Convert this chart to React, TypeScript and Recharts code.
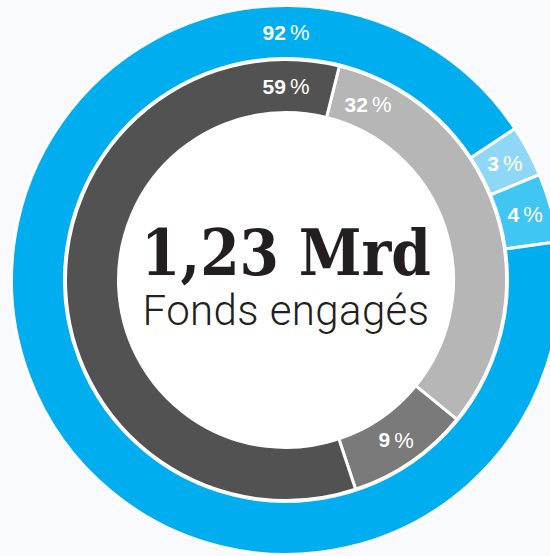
import { PieChart, Pie, Cell } from "recharts";

// outer ring
const outerLabels = ["3 %", "4 %", "92 %"];
const outerValues = [3, 4, 92];
const outerColors = ["#8fd7f6", "#40c6f3", "#00aeef"];

// inner ring
const innerLabels = ["32 %", "9 %", "59 %"];
const innerValues = [32, 9, 59];
const innerColors = ["#b6b6b7", "#7a7a7a", "#525252"];

const TOTAL = "1,23 Mrd";
const SUBTITLE = "Fonds engagés";

const W = 550;
const H = 556;
const CX = 286;
const CY = 280;
const RAD = Math.PI / 180;

const outerData = outerValues.map((value, i) => ({ name: outerLabels[i], value }));
const innerData = innerValues.map((value, i) => ({ name: innerLabels[i], value }));

// big slices get their label pulled toward the top of the ring, small ones sit at the middle
function labelAngle(p: any) {
  const s = p.startAngle ?? p.midAngle;
  const e = p.endAngle ?? p.midAngle;
  const lo = Math.min(s, e);
  const hi = Math.max(s, e);
  if (p.percent < 0.2) return p.midAngle;
  const pad = 11;
  for (const k of [-2, -1, 0, 1]) {
    const a = 90 + 360 * k;
    if (a >= lo + pad && a <= hi - pad) return a;
  }
  const top = 90;
  return Math.abs(hi - top) < Math.abs(lo - top) ? hi - pad : lo + pad;
}

function renderLabel(p: any) {
  const a = labelAngle(p);
  const r = (p.innerRadius + p.outerRadius) / 2;
  const x = p.cx + r * Math.cos(a * RAD);
  const y = p.cy - r * Math.sin(a * RAD);
  const [num] = String(p.name).split(" ");
  return (
    <text
      x={x}
      y={y}
      fill="#fff"
      textAnchor="middle"
      dominantBaseline="central"
      fontFamily="'Liberation Sans', Arial, sans-serif"
      fontSize={21}
      fontWeight={700}
    >
      {num}
      <tspan dx={4} fontWeight={400} fontSize={22}>
        %
      </tspan>
    </text>
  );
}

export default function App() {
  return (
    <div
      style={{
        width: W,
        height: H,
        position: "relative",
        background: `radial-gradient(circle at ${CX}px ${CY}px, #ffffff 170px, #f9fafd 171px)`,
      }}
    >
      <style>{"body{margin:0;background:#f9fafd}"}</style>
      <PieChart width={W} height={H} margin={{ top: 0, right: 0, bottom: 0, left: 0 }}>
        <Pie
          data={outerData}
          dataKey="value"
          cx={CX}
          cy={CY}
          innerRadius={221.5}
          outerRadius={274.5}
          startAngle={33.5}
          endAngle={33.5 - 360}
          stroke="#ffffff"
          strokeWidth={3}
          label={renderLabel}
          labelLine={false}
          isAnimationActive={false}
        >
          {outerData.map((d, i) => (
            <Cell key={d.name} fill={outerColors[i]} />
          ))}
        </Pie>
        <Pie
          data={innerData}
          dataKey="value"
          cx={CX}
          cy={CY}
          innerRadius={167.5}
          outerRadius={220.5}
          startAngle={76}
          endAngle={76 - 360}
          stroke="#ffffff"
          strokeWidth={3}
          label={renderLabel}
          labelLine={false}
          isAnimationActive={false}
        >
          {innerData.map((d, i) => (
            <Cell key={d.name} fill={innerColors[i]} />
          ))}
        </Pie>
        <text
          x={CX}
          y={275}
          textAnchor="middle"
          fill="#231f20"
          fontFamily="'DejaVu Serif', serif"
          fontWeight={700}
          fontSize={64}
          textLength={290}
          lengthAdjust="spacingAndGlyphs"
        >
          {TOTAL}
        </text>
        <text
          x={CX}
          y={325}
          textAnchor="middle"
          fill="#231f20"
          fontFamily="Roboto, 'Liberation Sans', sans-serif"
          fontWeight={300}
          fontSize={42}
          letterSpacing={0.4}
        >
          {SUBTITLE}
        </text>
      </PieChart>
    </div>
  );
}
